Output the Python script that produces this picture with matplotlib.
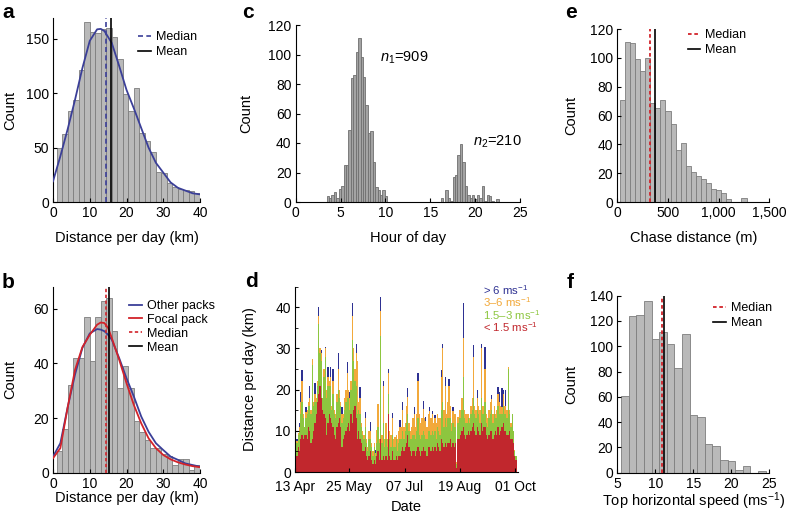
import numpy as np
import pandas as pd
import matplotlib
matplotlib.use('Agg')
import matplotlib.pyplot as plt
import matplotlib.dates as mdates
from matplotlib.ticker import FuncFormatter, MultipleLocator

plt.rcParams['font.family'] = ['Liberation Sans', 'DejaVu Sans']
plt.rcParams['mathtext.fontset'] = 'custom'
plt.rcParams['mathtext.rm'] = 'Liberation Sans'
plt.rcParams['mathtext.it'] = 'Liberation Sans:italic'
plt.rcParams['axes.linewidth'] = 0.8

# ---- data: a  (daily distance, all packs)
a_start, a_width = 1.0, 1.5
a_counts = [50, 62, 84, 94, 121, 165, 156, 155, 159, 160, 152, 131, 99,
            84, 105, 63, 56, 46, 28, 27, 17, 14, 12, 11, 10, 8]
kde_x = [0, 2, 4, 6, 8, 10, 12, 13, 14, 16, 18, 20, 22, 24, 26, 28, 30,
         32, 34, 36, 38, 40]
a_kde = [19, 42, 67, 94, 123, 148, 158.6, 159, 157, 146, 125, 103, 86, 68,
         50, 36, 27, 18, 13, 10.5, 8, 7]
a_median, a_mean = 14.5, 15.7

# ---- data: b  (focal pack)
b_start, b_width = 1.0, 1.5
b_counts = [8, 16, 32, 42, 42, 57, 41, 57, 63, 64, 52, 31, 39, 31, 19, 15,
            12, 9, 9, 7, 6, 3, 5, 5, 1, 3]
kde_x_b = [0, 2, 4, 6, 8, 10, 12, 13, 14, 15, 16, 18, 20, 22, 24, 26, 28,
           30, 32, 34, 36, 38, 40]
b_other = [5.9, 10.8, 24, 36, 45.7, 51, 52.6, 52.4, 51.8, 50.5, 48.7, 42,
           34.6, 27.9, 20.6, 15, 10.8, 8.3, 5.9, 4.7, 3.4, 2.8, 2.2]
b_focal = [5.3, 9, 24, 37.7, 46, 50.5, 54.2, 55, 54.8, 53, 49.3, 41.4,
           32.8, 24.8, 18.1, 12.6, 9, 6.5, 4.9, 3.8, 3, 2.4, 2]
b_median, b_mean = 14.4, 15.3

# ---- data: c  (hour of day of hunts)
c_start, c_width = 3.45, 0.27
c_counts = [4, 3, 5, 7, 3, 9, 11, 25, 25, 49, 84, 86, 102, 111, 98, 85, 66,
            47, 48, 27, 10, 8, 5, 8, 4,
            0, 0, 0, 0, 0, 0, 0, 0, 0, 0, 0, 0, 0, 0, 0, 0, 0, 0, 0, 0, 0, 0,
            3, 0, 8, 3, 1, 17, 18, 32, 39, 27, 11, 5, 3, 5, 2, 5, 3, 11, 1,
            5, 4, 1, 0, 2]

# ---- data: d  (daily distance split by speed class)
d_first_day = '2012-04-13'
d_red = [7, 4, 6, 5, 8, 9, 8, 9, 9, 8,
         11, 10, 7, 8, 10, 12, 14, 17, 19, 21,
         18, 15, 14, 13, 9, 12, 14, 13, 12, 11,
         9, 8, 11, 12, 13, 11, 6, 8, 9, 10,
         11, 12, 10, 14, 12, 15, 16, 13, 8, 10,
         8, 7, 5, 5, 6, 4, 3, 4, 5, 3,
         2, 3, 2, 4, 5, 3, 8, 3, 4, 3,
         4, 3, 14, 4, 3, 5, 3, 3, 4, 3,
         4, 4, 5, 6, 5, 6, 7, 9, 6, 5,
         4, 5, 5, 4, 5, 6, 5, 4, 5, 6,
         5, 5, 4, 6, 6, 5, 6, 5, 6, 5,
         7, 6, 5, 8, 7, 6, 7, 6, 7, 7,
         8, 6, 7, 6, 7, 1, 8, 8, 9, 10,
         11, 9, 8, 9, 10, 9, 10, 11, 12, 10,
         9, 11, 10, 9, 12, 10, 11, 11, 9, 8,
         9, 10, 10, 8, 9, 10, 9, 11, 9, 10,
         11, 12, 10, 10, 9, 9, 10, 8, 8, 7,
         4, 3]
d_green = [5, 3, 3, 5, 6, 8, 5, 2, 4, 6,
           5, 6, 7, 18, 6, 5, 3, 4, 17, 8,
           9, 3, 9, 15, 9, 9, 7, 8, 3, 8,
           5, 5, 6, 8, 5, 5, 6, 5, 6, 7,
           7, 6, 5, 6, 20, 12, 6, 8, 6, 5,
           6, 4, 4, 3, 5, 3, 2, 4, 3, 3,
           2, 3, 2, 3, 6, 4, 25, 4, 8, 3,
           4, 3, 5, 4, 3, 4, 3, 3, 4, 2,
           3, 4, 3, 4, 3, 4, 5, 5, 4, 3,
           4, 4, 4, 4, 5, 7, 4, 4, 4, 4,
           4, 3, 4, 4, 4, 4, 4, 4, 4, 3,
           4, 4, 4, 7, 10, 5, 6, 5, 6, 6,
           5, 4, 5, 5, 4, 1, 4, 5, 4, 5,
           12, 4, 4, 3, 3, 3, 4, 4, 6, 4,
           4, 4, 4, 3, 6, 4, 3, 6, 3, 3,
           4, 4, 5, 4, 5, 3, 4, 5, 5, 4,
           3, 4, 4, 4, 4, 16, 4, 3, 6, 3,
           1, 1]
d_orange = [0.5, 0.5, 0.5, 1, 3, 5, 1, 0, 1.5, 1,
            1, 2, 1, 1.5, 1, 2, 1, 1, 2, 1,
            2, 0, 2, 2, 2, 2, 1, 2, 1, 3,
            1, 1, 2, 5, 2, 1, 2, 1, 3, 3,
            6, 2, 3, 2, 6, 3, 3, 8, 13, 2,
            4, 1, 1, 1, 2, 1, 1, 2, 2, 1,
            1, 1, 0.5, 3.2, 5.6, 1, 6, 2, 9, 2,
            3.8, 2, 5, 2, 3, 4, 2, 2.6, 1, 3,
            3, 3, 3, 5, 3, 2, 4, 4.3, 2, 2,
            3, 4, 5, 3, 4, 9, 5, 4, 4, 5.3,
            4, 4.4, 3, 4, 4.7, 4, 4, 3, 3, 4,
            3, 3, 4, 8, 13, 4, 8, 3, 4, 8,
            3, 2, 2.8, 3, 3, 0.5, 1.4, 2, 2, 3,
            9.5, 2, 2, 2.2, 1, 1, 2, 3, 10, 2,
            2, 3, 2, 3, 12, 2, 2, 7.9, 2, 2,
            2, 3, 2.7, 2, 2, 1, 2, 3, 3, 2,
            1.8, 3, 2, 2, 2, 0.4, 1, 1, 0.2, 0,
            0.3, 0]
d_blue = [3.5, 0.5, 0, 1, 2.5, 2.7, 0, 0, 1.3, 0,
          0, 2.8, 0, 0, 0, 2.5, 0, 0, 2, 0,
          0.6, 0, 0, 0.3, 0, 2.5, 0, 2.5, 0, 3,
          0, 0, 0, 3.8, 0, 0, 1.8, 0, 0, 0,
          2.7, 0, 1.5, 0, 3, 0, 0, 2.2, 0, 0,
          2.7, 0, 0, 0, 1.6, 0, 0, 0, 2.2, 0,
          0, 0, 0.8, 0, 0, 0, 3.4, 0, 1, 0,
          0, 0, 1, 0, 0, 1.4, 0, 0, 0, 0,
          0, 1.6, 0, 2, 0, 0, 0, 2, 0, 0,
          0, 0, 1.8, 0, 0, 2, 0, 0, 0, 2,
          0, 1, 0, 0, 1, 0, 0.9, 0, 0.8, 0,
          0, 0, 0, 1.7, 1.2, 0, 2, 0, 0, 1.7,
          0, 0, 1, 0, 0, 0, 0, 0, 0, 0,
          8.5, 0, 0, 0, 0, 0, 0, 0, 2.8, 0,
          0, 1.9, 0, 0, 1.2, 0, 0, 5.5, 0, 0,
          0, 0, 1, 0, 0, 0, 0, 1.7, 2.5, 0,
          4.7, 1, 0, 4, 0, 0, 0, 0, 0, 0,
          0, 0]
d_labels = ['> 6 ms$^{-1}$', '3\u20136 ms$^{-1}$', '1.5\u20133 ms$^{-1}$',
            '< 1.5 ms$^{-1}$']
d_ticks = ['2012-04-13', '2012-05-25', '2012-07-07', '2012-08-19',
           '2012-10-01']

# ---- data: e  (chase distance)
e_start, e_width = 25, 50
e_counts = [71, 111, 110, 99, 91, 100, 69, 65, 71, 63, 54, 36, 41, 25, 21,
            18, 16, 13, 9, 8, 6, 2, 0, 0, 3]
e_median, e_mean = 322, 372

# ---- data: f  (top horizontal speed)
f_start, f_width = 5.5, 1.0
f_counts = [61, 124, 125, 136, 106, 111, 102, 83, 110, 46, 44, 23, 21, 10,
            9, 2, 5, 0, 1]
f_median, f_mean = 10.83, 11.14

GRAY, GRAY_EDGE = '#b9b9b9', '#7d7d7d'
BLUE, RED, ORANGE, GREEN, NAVY = '#3b3f98', '#d2232a', '#f2a93b', '#8dc63f', '#2e3192'
DRED = '#c1272d'
W, H = 788, 516


def make_ax(fig, left, top, right, bottom):
    ax = fig.add_axes([left / W, 1 - bottom / H, (right - left) / W, (bottom - top) / H])
    for s in ['top', 'right']:
        ax.spines[s].set_visible(False)
    ax.tick_params(direction='in', length=3, width=0.8, labelsize=10, pad=3)
    return ax


def hist(ax, start, width, counts, fc=GRAY, ec=GRAY_EDGE):
    left = start + width * np.arange(len(counts))
    ax.bar(left, counts, width=width, align='edge', color=fc, edgecolor=ec,
           linewidth=0.6, zorder=1)


def legend(ax, x, y, spacing=0.25):
    ax.legend(loc='upper left', bbox_to_anchor=(x, y), frameon=False,
              fontsize=9, handlelength=1.0, handletextpad=0.4,
              labelspacing=spacing, borderpad=0, borderaxespad=0)


def labels(ax, xlab, ylab, xl_y, yl_x):
    ax.set_xlabel(xlab, fontsize=10.5)
    ax.set_ylabel(ylab, fontsize=10.5)
    ax.yaxis.set_label_coords(yl_x, 0.5)
    ax.xaxis.set_label_coords(0.5, xl_y)


fig = plt.figure(figsize=(W / 100, H / 100), dpi=100)

# a
ax = make_ax(fig, 53, 18, 200, 202)
hist(ax, a_start, a_width, a_counts)
ax.plot(kde_x, a_kde, color=BLUE, lw=1.3, zorder=3)
ax.axvline(a_median, color=BLUE, ls=(0, (3, 2)), lw=1.2, label='Median', zorder=4)
ax.axvline(a_mean, color='black', lw=1.2, label='Mean', zorder=4)
ax.set_xlim(0, 40)
ax.set_ylim(0, 169)
ax.set_xticks([0, 10, 20, 30, 40])
ax.set_yticks([0, 50, 100, 150])
labels(ax, 'Distance per day (km)', 'Count', -0.155, -0.245)
legend(ax, 0.58, 0.93)

# b
ax = make_ax(fig, 53, 287, 200, 472.7)
hist(ax, b_start, b_width, b_counts)
ax.plot(kde_x_b, b_other, color=BLUE, lw=1.3, zorder=3, label='Other packs')
ax.plot(kde_x_b, b_focal, color=RED, lw=1.3, zorder=3, label='Focal pack')
ax.axvline(b_median, color=RED, ls=(0, (2, 1.5)), lw=1.2, label='Median', zorder=4)
ax.axvline(b_mean, color='black', lw=1.2, label='Mean', zorder=4)
ax.set_xlim(0, 40)
ax.set_ylim(0, 68)
ax.set_xticks([0, 10, 20, 30, 40])
ax.set_yticks([0, 20, 40, 60])
labels(ax, 'Distance per day (km)', 'Count', -0.1, -0.245)
legend(ax, 0.52, 0.93, spacing=0.15)

# c
ax = make_ax(fig, 295.7, 25, 520, 202)
hist(ax, c_start, c_width, c_counts, fc='#a3a3a3', ec='#6f6f6f')
ax.set_xlim(0, 25)
ax.set_ylim(0, 120)
ax.set_xticks([0, 5, 10, 15, 20, 25])
ax.set_yticks(range(0, 121, 20))
labels(ax, 'Hour of day', 'Count', -0.163, -0.19)
ax.text(9.4, 97.6, '$n_1$=909', fontsize=10.5, va='center')
ax.text(19.8, 40.7, '$n_2$=210', fontsize=10.5, va='center')

# d
ax = make_ax(fig, 295, 286.7, 518, 472)
days = mdates.date2num(pd.date_range(d_first_day, periods=len(d_red), freq='D'))
bottom = np.zeros(len(d_red))
for vals, col in [(d_red, DRED), (d_green, GREEN), (d_orange, ORANGE), (d_blue, NAVY)]:
    ax.bar(days, vals, width=1.0, bottom=bottom, align='edge', color=col, linewidth=0)
    bottom = bottom + np.array(vals)
ax.set_xlim(days[0], days[0] + 173)
ax.set_ylim(0, 45)
ax.set_yticks([0, 10, 20, 30, 40])
ax.yaxis.set_minor_locator(MultipleLocator(5))
ax.tick_params(which='minor', direction='in', length=2, width=0.6)
ax.set_xticks(mdates.date2num(pd.to_datetime(d_ticks)))
ax.xaxis.set_major_formatter(mdates.DateFormatter('%d %b'))
ax.tick_params(axis='x', pad=6)
labels(ax, 'Date', 'Distance per day (km)', -0.15, -0.17)
# coloured speed-class key, top right of panel d
for lab, col, yy in zip(d_labels, [NAVY, ORANGE, GREEN, DRED],
                        [290, 302.5, 315, 327.5]):
    fig.text(483 / W, 1 - yy / H, lab, color=col, fontsize=8.2, va='center')

# e
ax = make_ax(fig, 617.3, 29, 769.3, 202)
hist(ax, e_start, e_width, e_counts)
ax.axvline(e_median, color=RED, ls=(0, (2, 1.5)), lw=1.3, label='Median', zorder=4)
ax.axvline(e_mean, color='black', lw=1.2, label='Mean', zorder=4)
ax.set_xlim(0, 1500)
ax.set_ylim(0, 120)
ax.set_xticks([0, 500, 1000, 1500])
ax.xaxis.set_major_formatter(FuncFormatter(lambda v, p: '{:,.0f}'.format(v)))
ax.set_yticks(range(0, 121, 20))
labels(ax, 'Chase distance (m)', 'Count', -0.168, -0.26)
legend(ax, 0.465, 1.0)

# f
ax = make_ax(fig, 617.3, 295.7, 769.3, 472.7)
hist(ax, f_start, f_width, f_counts)
ax.axvline(f_median, color=RED, ls=(0, (2, 1.5)), lw=1.3, label='Median', zorder=4)
ax.axvline(f_mean, color='black', lw=1.2, label='Mean', zorder=4)
ax.set_xlim(5, 25)
ax.set_ylim(0, 140)
ax.set_xticks([5, 10, 15, 20, 25])
ax.set_yticks(range(0, 141, 20))
labels(ax, 'Top horizontal speed (ms$^{-1}$)', 'Count', -0.1, -0.26)
legend(ax, 0.63, 0.965)

for lab, x, y in [('a', 2, 18), ('b', 2, 288), ('c', 242, 18), ('d', 245, 287),
                  ('e', 565, 18), ('f', 567, 288)]:
    fig.text(x / W, 1 - y / H, lab, fontsize=15, fontweight='bold', va='baseline')

fig.savefig('out.png', dpi=100)
